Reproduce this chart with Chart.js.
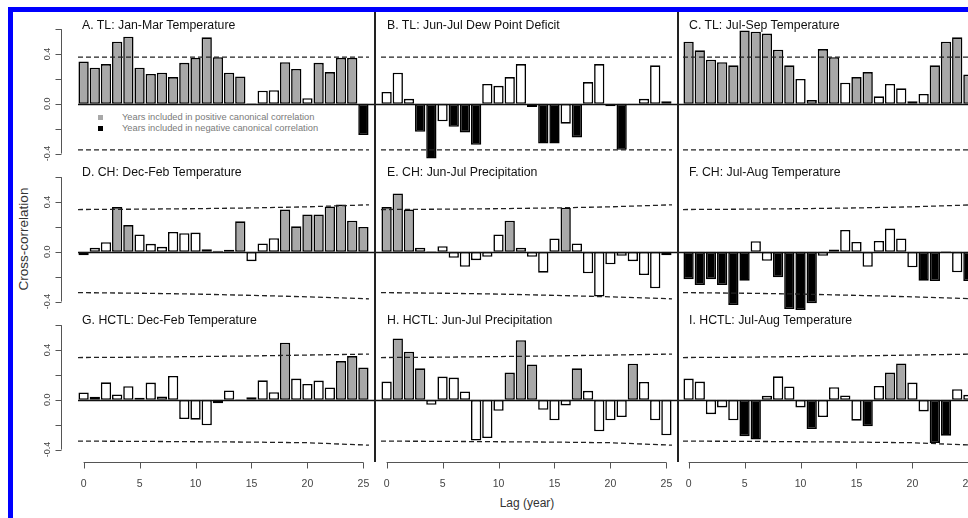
<!DOCTYPE html>
<html>
<head>
<meta charset="utf-8">
<script src="https://cdn.jsdelivr.net/npm/chart.js@4.4.0/dist/chart.umd.min.js"></script>
<style>
body { margin: 0; width: 968px; height: 518px; overflow: hidden; background: #fff; position: relative; font-family: "Liberation Sans", Arial, sans-serif; }
canvas { position: absolute; }
.t { position: absolute; font-size: 12.3px; line-height: 14px; color: #111; white-space: nowrap; }
.sep { position: absolute; width: 2px; background: #222; top: 12px; height: 450px; z-index: 2; }
.leg { position: absolute; font-size: 9.3px; line-height: 11px; color: #7a7a7a; white-space: nowrap; }
.sq { position: absolute; width: 5px; height: 5px; }
</style>
</head>
<body>
<div style="position:absolute;left:8px;top:7px;width:5px;height:511px;background:#0000ff;z-index:3"></div>
<div style="position:absolute;left:8px;top:7px;width:960px;height:5px;background:#0000ff;z-index:3"></div>
<div class="sep" style="left:374px"></div>
<div class="sep" style="left:677px"></div>

<div class="sq" style="left:98px;top:115px;background:#a8a8a8"></div>
<div class="sq" style="left:98px;top:126px;background:#000"></div>
<div class="leg" style="left:122px;top:112px">Years included in positive canonical correlation</div>
<div class="leg" style="left:122px;top:123px">Years included in negative canonical correlation</div>

<div style="position:absolute;left:23px;top:239px;transform:translate(-50%,-50%) rotate(-90deg);font-size:13.5px;color:#333;white-space:nowrap">Cross-correlation</div>
<div style="position:absolute;left:527px;top:503px;transform:translate(-50%,-50%);font-size:12px;color:#333;white-space:nowrap">Lag (year)</div>

<script>
// lag 0..25
const lags = [0,1,2,3,4,5,6,7,8,9,10,11,12,13,14,15,16,17,18,19,20,21,22,23,24,25];

const titles = [
    "A. TL: Jan-Mar Temperature", "B. TL: Jun-Jul Dew Point Deficit", "C. TL: Jul-Sep Temperature",
    "D. CH: Dec-Feb Temperature", "E. CH: Jun-Jul Precipitation", "F. CH: Jul-Aug Temperature",
    "G. HCTL: Dec-Feb Temperature", "H. HCTL: Jun-Jul Precipitation", "I. HCTL: Jul-Aug Temperature"
];

const valuesA = [0.34,0.29,0.32,0.50,0.54,0.29,0.24,0.25,0.215,0.33,0.37,0.535,0.375,0.25,0.22,0.004,0.105,0.11,0.335,0.28,0.045,0.33,0.255,0.37,0.37,-0.25];
const valuesB = [0.095,0.25,0.04,-0.225,-0.44,-0.14,-0.185,-0.23,-0.33,0.16,0.145,0.215,0.32,-0.025,-0.32,-0.32,-0.16,-0.27,0.175,0.32,-0.02,-0.37,0.003,0.04,0.31,0.02];
const valuesC = [0.50,0.43,0.355,0.335,0.31,0.59,0.58,0.565,0.435,0.31,0.2,0.03,0.44,0.375,0.17,0.215,0.255,0.06,0.16,0.125,0.02,0.08,0.31,0.5,0.535,0.235];
const valuesD = [-0.027,0.032,0.077,0.36,0.215,0.14,0.064,0.04,0.16,0.15,0.155,0.021,0.008,0.016,0.245,-0.075,0.067,0.11,0.34,0.205,0.30,0.30,0.365,0.38,0.25,0.2];
const valuesE = [0.36,0.47,0.34,0.032,0.005,0.045,-0.048,-0.12,-0.067,-0.04,0.14,0.25,0.032,-0.04,-0.168,0.107,0.355,0.067,-0.173,-0.36,-0.10,-0.032,-0.075,-0.187,-0.293,-0.027];
const valuesF = [-0.22,-0.267,-0.22,-0.267,-0.427,-0.232,0.085,-0.072,-0.205,-0.46,-0.467,-0.413,-0.032,0.019,0.176,0.08,-0.12,0.088,0.187,0.107,-0.125,-0.232,-0.235,0.005,-0.165,-0.235];
const valuesG = [0.059,0.024,0.141,0.043,0.109,0.016,0.139,0.027,0.192,-0.155,-0.16,-0.205,-0.027,0.075,0.005,0.021,0.157,0.061,0.459,0.171,0.128,0.155,0.099,0.312,0.352,0.259];
const valuesH = [0.147,0.493,0.387,0.253,-0.04,0.187,0.179,0.067,-0.328,-0.307,-0.088,0.219,0.48,0.285,-0.08,-0.165,-0.045,0.253,0.072,-0.253,-0.165,-0.139,0.291,0.144,-0.165,-0.285];
const valuesI = [0.171,0.147,-0.115,-0.061,-0.165,-0.293,-0.32,0.032,0.189,0.107,-0.061,-0.235,-0.139,0.101,0.035,-0.168,-0.213,0.112,0.219,0.293,0.139,-0.093,-0.347,-0.288,0.085,0.04];

// g = positive canonical years, b = negative, w = not included
const kindsA = "gggggggggggggggwwwggwggggb";
const kindsB = "wwwbbwbbbwwwwwbbwbwwwbwwww";
const kindsC = "ggggggggggwwggwggwwwwwgggg";
const kindsD = "wwwggwwwwwwwwwgwwwgggggggg";
const kindsE = "gggwwwwwwwwgwwwwgwwwwwwwww";
const kindsF = "bbbbbbwwbbbbwwwwwwwwwbbwwb";
const kindsG = "wwwwwwwwwwwwwwwwwwgwwwwggg";
const kindsH = "wgggwwwwwwwgggwwwgwwwwgwww";
const kindsI = "wwwwwbbwwwwbwwwwbwggwwbbww";

// confidence limits (dashed), read at a few lags
const boundLags = [-0.5, 5, 10, 15, 20, 25.5];
const tlUpper = [0.375,0.375,0.375,0.376,0.376,0.376];
const tlLower = [-0.37,-0.37,-0.37,-0.371,-0.371,-0.371];
const chUpper = [0.34,0.343,0.347,0.353,0.362,0.378];
const chLower = [-0.328,-0.333,-0.34,-0.35,-0.362,-0.378];
const hctlUpper = [0.34,0.343,0.348,0.353,0.36,0.368];
const hctlLower = [-0.332,-0.334,-0.337,-0.34,-0.345,-0.365];

const yTicks = [-0.4,-0.2,0,0.2,0.4,0.6];
const yLabels = ["-0.4","0.0","0.4"];
const yLabelVals = [-0.4,0,0.4];
const xTicks = [0,5,10,15,20,25];

const panelValues = [valuesA,valuesB,valuesC,valuesD,valuesE,valuesF,valuesG,valuesH,valuesI];
const panelKinds = [kindsA,kindsB,kindsC,kindsD,kindsE,kindsF,kindsG,kindsH,kindsI];
const rowBounds = [[tlUpper,tlLower],[chUpper,chLower],[hctlUpper,hctlLower]];

const fill = { g: "#a8a8a8", b: "#000000", w: "#ffffff" };

const cols = [
    { left: 20, width: 355, padL: 58, padR: 6, titleX: 82 },
    { left: 375, width: 303, padL: 6, padR: 6, titleX: 387 },
    { left: 678, width: 302, padL: 5, padR: 6, titleX: 689 }
];
const rowTops = [23, 171, 319];
const titleY = [25, 172, 320];
const areaH = 143;

const rAxes = {
    id: "rAxes",
    afterDatasetsDraw(chart, args, opts) {
        const { ctx, chartArea } = chart;
        const x = chart.scales.x, y = chart.scales.y;
        ctx.save();
        const y0 = Math.round(y.getPixelForValue(0)) + 0.5;
        ctx.strokeStyle = "#111";
        ctx.lineWidth = 1.4;
        ctx.beginPath();
        ctx.moveTo(opts.col === 0 ? chartArea.left : 0, y0);
        ctx.lineTo(chart.width, y0);
        ctx.stroke();

        ctx.fillStyle = "#444";
        ctx.strokeStyle = "#555";
        ctx.lineWidth = 1;
        if (opts.col === 0) {
            const ax = Math.round(chartArea.left - 17) + 0.5;
            ctx.beginPath();
            ctx.moveTo(ax, y.getPixelForValue(0.6));
            ctx.lineTo(ax, y.getPixelForValue(-0.4));
            yTicks.forEach(v => {
                const py = Math.round(y.getPixelForValue(v)) + 0.5;
                ctx.moveTo(ax, py);
                ctx.lineTo(ax - 6, py);
            });
            ctx.stroke();
            ctx.font = "9px 'Liberation Sans', Arial, sans-serif";
            ctx.textAlign = "center";
            ctx.textBaseline = "middle";
            yLabelVals.forEach((v, i) => {
                ctx.save();
                ctx.translate(ax - 14, y.getPixelForValue(v));
                ctx.rotate(-Math.PI / 2);
                ctx.fillText(yLabels[i], 0, 0);
                ctx.restore();
            });
        }
        if (opts.row === 2) {
            const by = Math.round(chartArea.bottom) + 0.5;
            ctx.beginPath();
            ctx.moveTo(x.getPixelForValue(0), by);
            ctx.lineTo(x.getPixelForValue(25), by);
            xTicks.forEach(v => {
                const px = Math.round(x.getPixelForValue(v)) + 0.5;
                ctx.moveTo(px, by);
                ctx.lineTo(px, by + 6);
            });
            ctx.stroke();
            ctx.font = "10.5px 'Liberation Sans', Arial, sans-serif";
            ctx.textAlign = "center";
            ctx.textBaseline = "middle";
            xTicks.forEach(v => ctx.fillText(String(v), x.getPixelForValue(v), by + 22));
        }
        ctx.restore();
    }
};

panelValues.forEach((vals, p) => {
    const row = Math.floor(p / 3), col = p % 3;
    const c = cols[col];
    const padB = row === 2 ? 40 : 0;
    const cv = document.createElement("canvas");
    cv.width = c.width;
    cv.height = areaH + padB;
    cv.style.left = c.left + "px";
    cv.style.top = rowTops[row] + "px";
    document.body.appendChild(cv);

    const t = document.createElement("div");
    t.className = "t";
    t.style.left = c.titleX + "px";
    t.style.top = (titleY[row] - 7) + "px";
    t.textContent = titles[p];
    document.body.appendChild(t);

    const kinds = panelKinds[p];
    const [up, low] = rowBounds[row];
    const dashed = (arr) => ({
        type: "line",
        data: boundLags.map((l, i) => ({ x: l, y: arr[i] })),
        borderColor: "#222",
        borderWidth: 1.3,
        borderDash: [5, 3],
        pointRadius: 0,
        fill: false,
        tension: 0,
        order: 1
    });

    new Chart(cv.getContext("2d"), {
        type: "bar",
        data: {
            datasets: [{
                data: lags.map((l, i) => ({ x: l, y: vals[i] })),
                backgroundColor: lags.map(i => fill[kinds[i]]),
                borderColor: "#000",
                borderWidth: 1.6,
                borderSkipped: false,
                barPercentage: 0.92,
                categoryPercentage: 1,
                order: 2
            }, dashed(up), dashed(low)]
        },
        options: {
            responsive: false,
            animation: false,
            events: [],
            layout: { padding: { left: c.padL, right: c.padR, top: 0, bottom: padB } },
            plugins: {
                legend: { display: false },
                tooltip: { enabled: false },
                rAxes: { row: row, col: col }
            },
            scales: {
                x: { type: "linear", min: -0.5, max: 25.5, offset: false, display: false },
                y: { min: -0.5, max: 0.65, display: false }
            }
        },
        plugins: [rAxes]
    });
});
</script>
</body>
</html>
